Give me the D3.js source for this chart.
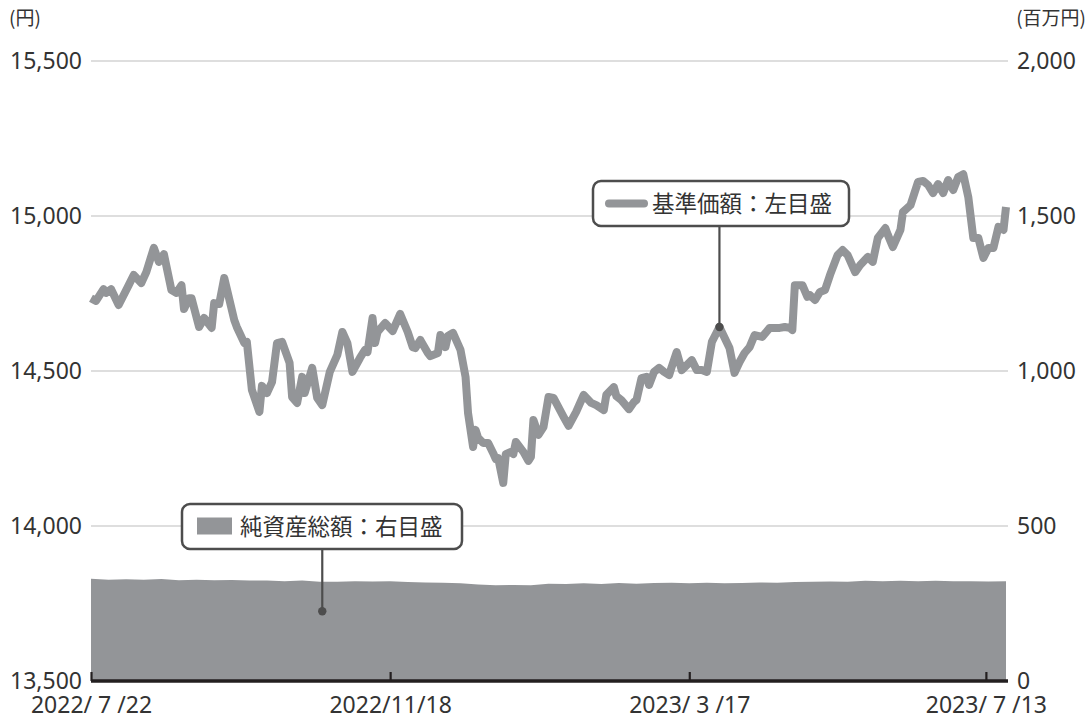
<!DOCTYPE html>
<html>
<head>
<meta charset="utf-8">
<title>基準価額・純資産総額の推移</title>
<script src="https://d3js.org/d3.v7.min.js"></script>
<style>
  body { margin: 0; background: #fff; }
  svg text { font-family: "Noto Sans CJK JP", "Noto Sans", sans-serif; fill: #333; }
  svg .num text, svg text.num { font-family: "Noto Sans", "Noto Sans CJK JP", sans-serif; }
</style>
</head>
<body>
<div id="chart"></div>
<script>
// 基準価額 (円)
const priceDates = [
  "2022-07-22","2022-07-24","2022-07-27","2022-07-28","2022-07-30","2022-08-02","2022-08-06","2022-08-08",
  "2022-08-11","2022-08-13","2022-08-16","2022-08-18","2022-08-20","2022-08-23","2022-08-25","2022-08-27",
  "2022-08-28","2022-08-30","2022-08-31","2022-09-03","2022-09-05","2022-09-08","2022-09-09","2022-09-11",
  "2022-09-13","2022-09-17","2022-09-18","2022-09-21","2022-09-22","2022-09-24","2022-09-27","2022-09-28",
  "2022-09-30","2022-10-02","2022-10-04","2022-10-06","2022-10-09","2022-10-10","2022-10-12","2022-10-14",
  "2022-10-15","2022-10-18","2022-10-20","2022-10-22","2022-10-25","2022-10-28","2022-10-30","2022-11-01",
  "2022-11-03","2022-11-06","2022-11-08","2022-11-09","2022-11-11","2022-11-12","2022-11-13","2022-11-16",
  "2022-11-19","2022-11-22","2022-11-25","2022-11-27","2022-11-28","2022-11-30","2022-12-03","2022-12-04",
  "2022-12-07","2022-12-08","2022-12-10","2022-12-11","2022-12-13","2022-12-16","2022-12-18","2022-12-19",
  "2022-12-21","2022-12-22","2022-12-23","2022-12-25","2022-12-27","2022-12-29","2022-12-30","2022-12-31",
  "2023-01-02","2023-01-03","2023-01-05","2023-01-06","2023-01-07","2023-01-10","2023-01-12","2023-01-13",
  "2023-01-14","2023-01-16","2023-01-18","2023-01-20","2023-01-22","2023-01-26","2023-01-28","2023-01-31",
  "2023-02-03","2023-02-06","2023-02-08","2023-02-11","2023-02-12","2023-02-15","2023-02-16","2023-02-18",
  "2023-02-21","2023-02-23","2023-02-24","2023-02-26","2023-02-28","2023-03-01","2023-03-03","2023-03-05",
  "2023-03-07","2023-03-09","2023-03-10","2023-03-12","2023-03-14","2023-03-18","2023-03-20","2023-03-22",
  "2023-03-24","2023-03-26","2023-03-29","2023-04-02","2023-04-04","2023-04-06","2023-04-08","2023-04-10",
  "2023-04-12","2023-04-15","2023-04-18","2023-04-22","2023-04-24","2023-04-26","2023-04-27","2023-04-28",
  "2023-05-01","2023-05-03","2023-05-04","2023-05-06","2023-05-08","2023-05-10","2023-05-12","2023-05-15",
  "2023-05-17","2023-05-19","2023-05-22","2023-05-24","2023-05-27","2023-05-29","2023-05-31","2023-06-03",
  "2023-06-04","2023-06-06","2023-06-09","2023-06-10","2023-06-13","2023-06-16","2023-06-18","2023-06-20",
  "2023-06-22","2023-06-24","2023-06-26","2023-06-28","2023-06-30","2023-07-02","2023-07-04","2023-07-06",
  "2023-07-08","2023-07-10","2023-07-12","2023-07-14","2023-07-16","2023-07-18","2023-07-20","2023-07-21"
];
const priceValues = [
  14735,14726,14764,14752,14764,14713,14777,14810,
  14784,14819,14897,14852,14877,14761,14752,14777,
  14700,14735,14735,14642,14671,14639,14719,14716,
  14800,14664,14642,14590,14594,14439,14368,14452,
  14429,14464,14590,14594,14526,14416,14397,14481,
  14429,14510,14413,14390,14497,14552,14626,14590,
  14497,14542,14568,14561,14671,14590,14626,14655,
  14629,14684,14626,14577,14574,14600,14558,14548,
  14558,14616,14577,14613,14623,14568,14481,14364,
  14255,14310,14284,14268,14268,14235,14216,14219,
  14139,14232,14239,14232,14271,14239,14210,14223,
  14342,14294,14319,14416,14413,14352,14323,14368,
  14423,14397,14390,14374,14423,14448,14419,14406,
  14377,14400,14406,14477,14481,14455,14497,14510,
  14497,14487,14513,14561,14503,14535,14503,14503,
  14497,14594,14642,14574,14494,14529,14558,14577,
  14616,14610,14639,14639,14642,14639,14632,14777,
  14777,14739,14745,14729,14755,14761,14810,14874,
  14890,14874,14819,14842,14868,14852,14929,14961,
  14939,14900,14955,15013,15035,15110,15113,15100,
  15074,15103,15074,15116,15084,15126,15135,15061,
  14929,14929,14865,14897,14897,14965,14955,15029
];

// 純資産総額 (百万円)
const assetDates = [
  "2022-07-22","2022-07-29","2022-08-05","2022-08-12","2022-08-19","2022-08-26","2022-09-02","2022-09-09",
  "2022-09-16","2022-09-23","2022-09-30","2022-10-07","2022-10-14","2022-10-21","2022-10-28","2022-11-04",
  "2022-11-11","2022-11-18","2022-11-25","2022-12-02","2022-12-09","2022-12-16","2022-12-23","2022-12-30",
  "2023-01-06","2023-01-13","2023-01-20","2023-01-27","2023-02-03","2023-02-10","2023-02-17","2023-02-24",
  "2023-03-03","2023-03-10","2023-03-17","2023-03-24","2023-03-31","2023-04-07","2023-04-14","2023-04-21",
  "2023-04-28","2023-05-05","2023-05-12","2023-05-19","2023-05-26","2023-06-02","2023-06-09","2023-06-16",
  "2023-06-23","2023-06-30","2023-07-07","2023-07-14","2023-07-21"
];
const assetValues = [
  330,327,328,327,329,325,327,325,
  326,324,324,322,324,320,320,322,
  321,322,319,318,317,315,311,309,
  310,309,314,313,315,313,316,314,
  316,317,315,317,315,316,318,317,
  319,320,321,320,323,322,323,322,
  323,322,322,321,322
];

const leftTicks = [13500, 14000, 14500, 15000, 15500];
const rightTicks = [0, 500, 1000, 1500, 2000];
const dateTicks = ["2022-07-22", "2022-11-18", "2023-03-17", "2023-07-13"];
const dateTickLabels = ["2022/ 7 /22", "2022/11/18", "2023/ 3 /17", "2023/ 7 /13"];
const leftUnit = "(円)";
const rightUnit = "(百万円)";
const priceLegend = "基準価額：左目盛";
const assetLegend = "純資産総額：右目盛";
const priceLegendAt = "2023-03-29";   // where the leader line touches the line
const assetLegendAt = ["2022-10-22", 225];

const width = 1088, height = 720;
const plotLeft = 91, plotRight = 1006, plotTop = 61, plotBottom = 681;
const grey = "#939598";

const parse = d3.timeParse("%Y-%m-%d");
const price = priceDates.map((d, i) => ({date: parse(d), value: priceValues[i]}));
const assets = assetDates.map((d, i) => ({date: parse(d), value: assetValues[i]}));

const svg = d3.select("#chart").append("svg")
    .attr("width", width)
    .attr("height", height);

const x = d3.scaleTime()
    .domain([parse("2022-07-22"), parse("2023-07-21")])
    .range([plotLeft, plotRight]);

const yL = d3.scaleLinear().domain([13500, 15500]).range([plotBottom, plotTop]);
const yR = d3.scaleLinear().domain([0, 2000]).range([plotBottom, plotTop]);

// gridlines
svg.append("g")
    .selectAll("line")
    .data(leftTicks.slice(1))
    .join("line")
    .attr("x1", plotLeft)
    .attr("x2", plotRight + 2)
    .attr("y1", d => yL(d))
    .attr("y2", d => yL(d))
    .attr("stroke", "#bdbdbd")
    .attr("stroke-width", 1.2);

// net assets area
svg.append("path")
    .datum(assets)
    .attr("fill", grey)
    .attr("d", d3.area()
        .x(d => x(d.date))
        .y0(yR(0))
        .y1(d => yR(d.value)));

// price line
svg.append("path")
    .datum(price)
    .attr("fill", "none")
    .attr("stroke", grey)
    .attr("stroke-width", 8)
    .attr("stroke-linejoin", "round")
    .attr("d", d3.line()
        .x(d => x(d.date))
        .y(d => yL(d.value)));

// left axis labels
svg.append("g")
    .attr("class", "num")
    .attr("transform", `translate(${plotLeft - 9},0)`)
    .call(d3.axisLeft(yL).tickValues(leftTicks).tickSize(0).tickPadding(0).tickFormat(d3.format(",")))
    .call(g => g.select(".domain").remove())
    .call(g => g.selectAll("text").attr("font-size", 23).attr("fill", "#333"));

// right axis labels
svg.append("g")
    .attr("class", "num")
    .attr("transform", `translate(${plotRight + 11},0)`)
    .call(d3.axisRight(yR).tickValues(rightTicks).tickSize(0).tickPadding(0).tickFormat(d3.format(",")))
    .call(g => g.select(".domain").remove())
    .call(g => g.selectAll("text").attr("font-size", 23).attr("fill", "#333"));

// bottom axis
const xAxis = svg.append("g")
    .attr("class", "num")
    .attr("transform", `translate(0,${plotBottom})`)
    .call(d3.axisBottom(x)
        .tickValues(dateTicks.map(parse))
        .tickSizeInner(-9)
        .tickSizeOuter(0)
        .tickPadding(16)
        .tickFormat((d, i) => dateTickLabels[i]));
xAxis.select(".domain")
    .attr("stroke", "#231f20")
    .attr("stroke-width", 3.5)
    .attr("d", `M${plotLeft},0H${plotRight + 2}`);
xAxis.selectAll(".tick line").attr("stroke", "#231f20").attr("stroke-width", 2.2);
xAxis.selectAll(".tick text").attr("font-size", 23).attr("fill", "#333");

// units
svg.append("text").attr("x", 9).attr("y", 25).attr("font-size", 19).text(leftUnit);
svg.append("text").attr("x", 1086).attr("y", 25).attr("font-size", 19)
    .attr("text-anchor", "end").text(rightUnit);

// legend callouts
function callout(bx, by, bw, bh, px, py, label, swatch) {
  svg.append("line")
      .attr("x1", px).attr("x2", px)
      .attr("y1", by + bh).attr("y2", py)
      .attr("stroke", "#4d4d4d").attr("stroke-width", 2.2);
  svg.append("circle")
      .attr("cx", px).attr("cy", py).attr("r", 4.2)
      .attr("fill", "#4d4d4d");
  svg.append("rect")
      .attr("x", bx).attr("y", by).attr("width", bw).attr("height", bh)
      .attr("rx", 8)
      .attr("fill", "#fff")
      .attr("stroke", "#4d4d4d")
      .attr("stroke-width", 2.5);
  swatch(bx, by + bh / 2);
  svg.append("text")
      .attr("x", bx + swatch.textOffset)
      .attr("y", by + bh / 2)
      .attr("dy", "0.36em")
      .attr("font-size", 22.5)
      .text(label);
}

const lineSwatch = (bx, cy) => {
  svg.append("line")
      .attr("x1", bx + 16).attr("x2", bx + 51)
      .attr("y1", cy).attr("y2", cy)
      .attr("stroke", grey).attr("stroke-width", 8).attr("stroke-linecap", "round");
};
lineSwatch.textOffset = 59;

const rectSwatch = (bx, cy) => {
  svg.append("rect")
      .attr("x", bx + 15).attr("y", cy - 9)
      .attr("width", 35).attr("height", 17)
      .attr("fill", grey);
};
rectSwatch.textOffset = 58;

const pLeg = price.find(d => +d.date === +parse(priceLegendAt));
callout(593, 181, 256, 45, x(pLeg.date), yL(pLeg.value), priceLegend, lineSwatch);
callout(182, 504, 280, 45, x(parse(assetLegendAt[0])), yR(assetLegendAt[1]), assetLegend, rectSwatch);
</script>
</body>
</html>
